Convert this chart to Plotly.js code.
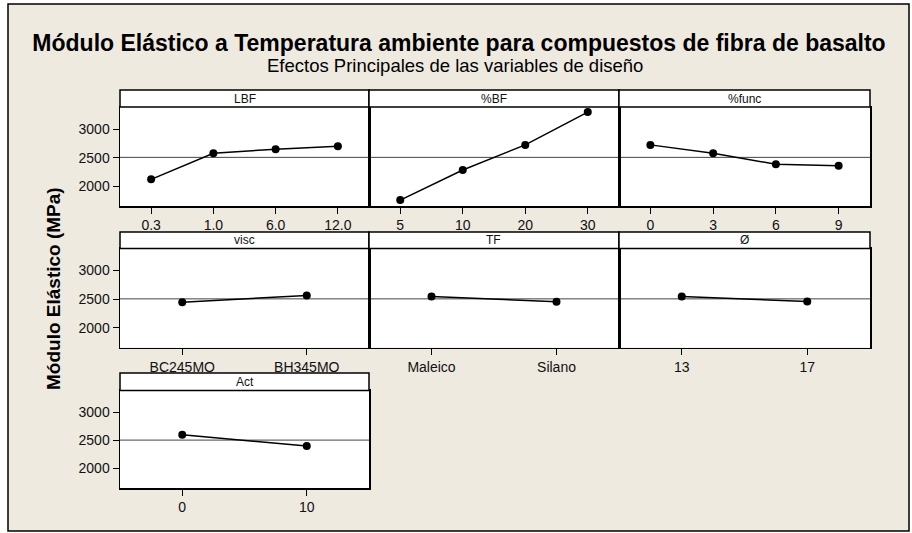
<!DOCTYPE html>
<html>
<head>
<meta charset="utf-8">
<script src="https://cdn.plot.ly/plotly-3.0.1.min.js"></script>
<style>
  html, body { margin: 0; padding: 0; background: #fff; }
  #plot { width: 912px; height: 533px; }
</style>
</head>
<body>
<div id="plot"></div>
<script>
// Level means of the elastic modulus (MPa) for each design factor
const lbfLevels = ['0.3', '1.0', '6.0', '12.0'];
const lbfMeans = [2121, 2577, 2647, 2700];

const bfLevels = ['5', '10', '20', '30'];
const bfMeans = [1758, 2284, 2723, 3296];

const funcLevels = ['0', '3', '6', '9'];
const funcMeans = [2723, 2577, 2384, 2360];

const viscLevels = ['BC245MO', 'BH345MO'];
const viscMeans = [2447, 2563];

const tfLevels = ['Maleico', 'Silano'];
const tfMeans = [2545, 2455];

const diamLevels = ['13', '17'];
const diamMeans = [2545, 2458];

const actLevels = ['0', '10'];
const actMeans = [2598, 2402];

const factorNames = ['LBF', '%BF', '%func', 'visc', 'TF', 'Ø', 'Act'];
const grandMean = 2505;
const yTicks = [2000, 2500, 3000];

const FONT = 'Arial, "Liberation Sans", sans-serif';
const NARROW = '"Liberation Sans Narrow", "Arial Narrow", Arial, sans-serif';
const BEIGE = '#eeeae0';

// page is 912 x 533, margins are zero so paper coords map straight to pixels
const W = 912, H = 533;
const px = x => x / W;
const py = y => 1 - y / H;

// panel grid in pixels
const cols = [[120, 369], [369, 619], [619, 870]];
const rows = [
    { head: 90, top: 107, bottom: 206 },
    { head: 232, top: 248.5, bottom: 347.5 },
    { head: 373, top: 390.5, bottom: 488 }
];

const panels = [
    { levels: lbfLevels, means: lbfMeans, row: 0, col: 0 },
    { levels: bfLevels, means: bfMeans, row: 0, col: 1 },
    { levels: funcLevels, means: funcMeans, row: 0, col: 2 },
    { levels: viscLevels, means: viscMeans, row: 1, col: 0 },
    { levels: tfLevels, means: tfMeans, row: 1, col: 1 },
    { levels: diamLevels, means: diamMeans, row: 1, col: 2 },
    { levels: actLevels, means: actMeans, row: 2, col: 0 }
];

const traces = [];
const layout = {
    width: W,
    height: H,
    margin: { l: 0, r: 0, t: 0, b: 0 },
    paper_bgcolor: 'white',
    plot_bgcolor: 'rgba(0,0,0,0)',
    showlegend: false,
    title: {
        text: '<b>Módulo Elástico a Temperatura ambiente para compuestos de fibra de basalto</b>',
        font: { family: FONT, size: 23, color: 'black' },
        x: px(459),
        xanchor: 'center',
        y: py(43),
        yanchor: 'middle'
    },
    shapes: [],
    annotations: []
};

// beige frame round everything
layout.shapes.push({
    type: 'rect', xref: 'paper', yref: 'paper',
    x0: px(8), x1: px(909), y0: py(531), y1: py(4),
    fillcolor: BEIGE, line: { color: 'black', width: 1.5 }, layer: 'below'
});

panels.forEach((p, i) => {
    const k = i === 0 ? '' : String(i + 1);
    const [c0, c1] = cols[p.col];
    const r = rows[p.row];

    traces.push({
        x: p.levels,
        y: p.means,
        xaxis: 'x' + k,
        yaxis: 'y' + k,
        type: 'scatter',
        mode: 'lines+markers',
        line: { color: 'black', width: 1.5 },
        marker: { color: 'black', size: 8 },
        hoverinfo: 'skip'
    });

    layout['xaxis' + k] = {
        domain: [px(c0), px(c1)],
        anchor: 'y' + k,
        type: 'category',
        range: [-0.5, p.levels.length - 0.5],
        showline: true, mirror: true, linecolor: 'black', linewidth: 1.5,
        ticks: 'outside', ticklen: 6, tickwidth: 1, tickcolor: 'black',
        tickfont: { family: FONT, size: 14, color: '#111' },
        showgrid: false, zeroline: false, fixedrange: true
    };

    layout['yaxis' + k] = {
        domain: [py(r.bottom), py(r.top)],
        anchor: 'x' + k,
        range: [1655, 3385],
        tickvals: yTicks,
        showline: true, mirror: true, linecolor: 'black', linewidth: 1.5,
        ticks: p.col === 0 ? 'outside' : '',
        ticklen: 6, tickwidth: 1, tickcolor: 'black',
        showticklabels: p.col === 0,
        tickfont: { family: FONT, size: 14, color: '#111' },
        showgrid: false, zeroline: false, fixedrange: true
    };

    // white plot area
    layout.shapes.push({
        type: 'rect', xref: 'paper', yref: 'paper',
        x0: px(c0), x1: px(c1), y0: py(r.bottom), y1: py(r.top),
        fillcolor: 'white', line: { width: 0 }, layer: 'below'
    });

    // overall mean reference line
    layout.shapes.push({
        type: 'line', xref: 'x' + k + ' domain', yref: 'y' + k,
        x0: 0, x1: 1, y0: grandMean, y1: grandMean,
        line: { color: '#444', width: 1 }, layer: 'below'
    });

    // header strip with factor name
    layout.shapes.push({
        type: 'rect', xref: 'paper', yref: 'paper',
        x0: px(c0), x1: px(c1), y0: py(r.top), y1: py(r.head),
        fillcolor: 'white', line: { color: 'black', width: 1.5 }
    });
    layout.annotations.push({
        text: factorNames[i],
        xref: 'paper', yref: 'paper',
        x: px((c0 + c1) / 2), y: py((r.head + r.top) / 2),
        xanchor: 'center', yanchor: 'middle',
        showarrow: false,
        font: { family: NARROW, size: 12, color: '#111' }
    });
});

// subtitle
layout.annotations.push({
    text: 'Efectos Principales de las variables de diseño',
    xref: 'paper', yref: 'paper',
    x: px(455), y: py(66),
    xanchor: 'center', yanchor: 'middle',
    showarrow: false,
    font: { family: FONT, size: 18.5, color: 'black' }
});

// shared y-axis title
layout.annotations.push({
    text: '<b>Módulo Elástico (MPa)</b>',
    xref: 'paper', yref: 'paper',
    x: px(53), y: py(289),
    xanchor: 'center', yanchor: 'middle',
    textangle: -90,
    showarrow: false,
    font: { family: FONT, size: 19, color: 'black' }
});

Plotly.newPlot('plot', traces, layout, { staticPlot: true });
</script>
</body>
</html>
